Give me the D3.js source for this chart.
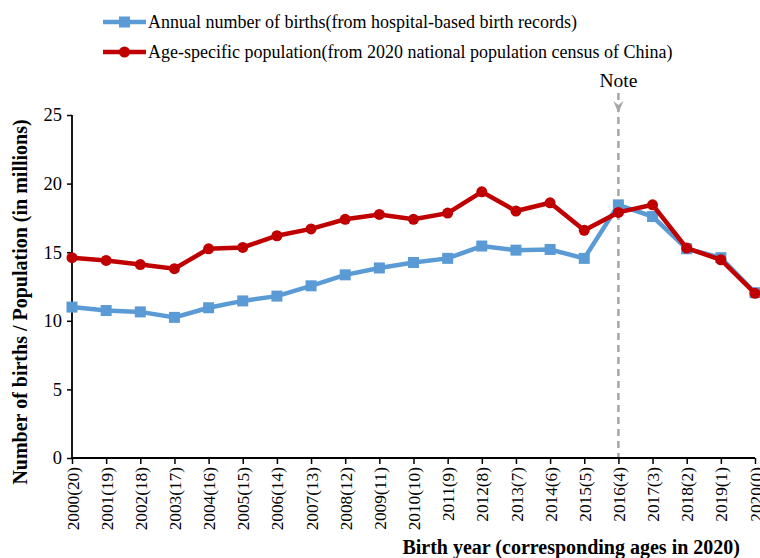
<!DOCTYPE html>
<html><head><meta charset="utf-8">
<script src="https://cdn.jsdelivr.net/npm/d3@7"></script>
<style>body{margin:0;background:#fff}svg{display:block}text{font-family:"Liberation Serif","Times New Roman",serif}</style>
</head><body><svg id="c" width="760" height="558"></svg>
<script>
const years = [2000,2001,2002,2003,2004,2005,2006,2007,2008,2009,2010,2011,2012,2013,2014,2015,2016,2017,2018,2019,2020];
const ages = [20,19,18,17,16,15,14,13,12,11,10,9,8,7,6,5,4,3,2,1,0];
const births = [11.0,10.75,10.65,10.25,10.95,11.45,11.8,12.55,13.35,13.85,14.25,14.55,15.45,15.15,15.2,14.55,18.45,17.6,15.25,14.6,12.05];
const census = [14.6,14.4,14.1,13.8,15.25,15.35,16.2,16.7,17.4,17.75,17.4,17.85,19.4,18.0,18.6,16.6,17.9,18.45,15.3,14.45,12.0];
const yTicks = [0,5,10,15,20,25];
const noteYear = 2016;
const seriesNames = ["Annual number of births(from hospital-based birth records)","Age-specific population(from 2020 national population census of China)"];

const svg = d3.select("#c");
const x = d3.scalePoint().domain(years).range([72,755]);
const y = d3.scaleLinear().domain([0,25]).range([458,115]);
const blue = "#5B9BD5", red = "#C00000";

// note dashed line
svg.append("line").attr("x1",x(noteYear)).attr("x2",x(noteYear)).attr("y1",93).attr("y2",y(0))
  .attr("stroke","#A6A6A6").attr("stroke-width",2.5).attr("stroke-dasharray","7,5");
svg.append("path").attr("d",`M${x(noteYear)-5},101 L${x(noteYear)},113 L${x(noteYear)+5},101 L${x(noteYear)},105 Z`).attr("fill","#A6A6A6");
svg.append("text").attr("x",x(noteYear)).attr("y",87).attr("text-anchor","middle").attr("font-size",19.5).text("Note");

// axes
const ya = svg.append("g").attr("transform","translate(72,0)").call(d3.axisLeft(y).tickValues(yTicks).tickSize(5).tickPadding(5));
ya.select(".domain").attr("stroke","#000").attr("stroke-width",1.8).attr("d",`M-0,${y(25)}V${y(0)}`);
ya.selectAll(".tick line").attr("stroke-width",1.5);
ya.selectAll("text").attr("font-size",18.5).attr("font-family","Liberation Serif").attr("fill","#000");

const xa = svg.append("g").attr("transform",`translate(0,${y(0)})`).call(d3.axisBottom(x).tickFormat((d,i)=>`${d}(${ages[i]})`).tickSize(6));
xa.select(".domain").attr("stroke-width",1.8).attr("d",`M72,0H755`);
xa.selectAll(".tick line").attr("stroke-width",1.5);
xa.selectAll("text").attr("font-size",17.3).attr("font-family","Liberation Serif").attr("fill","#000")
  .attr("transform","rotate(-90)").attr("text-anchor","end").attr("x",-9).attr("y",0).attr("dy","0.35em");

// lines
const line = d3.line().x((d,i)=>x(years[i])).y(d=>y(d));
svg.append("path").datum(births).attr("d",line).attr("fill","none").attr("stroke",blue).attr("stroke-width",4.5);
svg.selectAll(".sq").data(births).join("rect").attr("x",(d,i)=>x(years[i])-5.5).attr("y",d=>y(d)-5.5)
  .attr("width",11).attr("height",11).attr("fill",blue);
svg.append("path").datum(census).attr("d",line).attr("fill","none").attr("stroke",red).attr("stroke-width",4.5);
svg.selectAll(".ci").data(census).join("circle").attr("cx",(d,i)=>x(years[i])).attr("cy",d=>y(d)).attr("r",5.5).attr("fill",red);

// legend
const lg = [{c:blue,t:seriesNames[0],y:22,m:"sq"},{c:red,t:seriesNames[1],y:52,m:"ci"}];
lg.forEach(l=>{
  svg.append("line").attr("x1",103).attr("x2",146).attr("y1",l.y).attr("y2",l.y).attr("stroke",l.c).attr("stroke-width",4.5);
  if(l.m==="sq") svg.append("rect").attr("x",119).attr("y",l.y-5.5).attr("width",11).attr("height",11).attr("fill",l.c);
  else svg.append("circle").attr("cx",124.5).attr("cy",l.y).attr("r",5.5).attr("fill",l.c);
  svg.append("text").attr("x",148).attr("y",l.y+6).attr("font-size",18).text(l.t);
});

// titles
svg.append("text").attr("transform","translate(27,302) rotate(-90)").attr("text-anchor","middle")
  .attr("font-size",20).attr("font-weight","bold").text("Number of births / Population (in millions)");
svg.append("text").attr("x",740).attr("y",554).attr("text-anchor","end").attr("font-size",20).attr("font-weight","bold")
  .text("Birth year (corresponding ages in 2020)");
</script></body></html>
